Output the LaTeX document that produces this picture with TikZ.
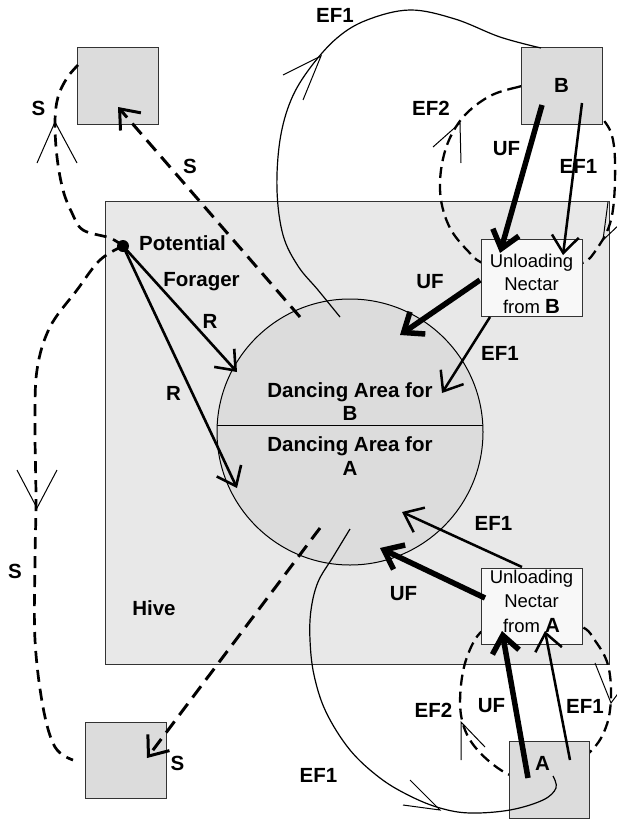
\documentclass[tikz,border=0pt]{standalone}
\usepackage{fontspec}
\setmainfont{Liberation Sans}
\usetikzlibrary{arrows.meta}
\definecolor{hivefill}{HTML}{E8E8E8}
\definecolor{patchfill}{HTML}{DCDCDC}
\definecolor{boxfill}{HTML}{F8F8F8}
\definecolor{edgegray}{HTML}{333333}
\begin{document}
\begin{tikzpicture}[x=1pt,y=-1pt,
  lbl/.style={font=\bfseries\fontsize{20.5}{24}\selectfont,inner sep=0pt,anchor=base},
  txt/.style={font=\fontsize{18.5}{22}\selectfont,inner sep=0pt,anchor=base},
  area/.style={draw=edgegray,line width=1pt,inner sep=0pt,anchor=north west},
  patch/.style={area,fill=patchfill},
  unload/.style={area,fill=boxfill},
  barb/.style={-{Straight Barb[length=17pt,width=27pt]}},
  scout/.style={barb,line width=3pt,dash pattern=on 14pt off 8pt},
  recruit/.style={barb,line width=2.6pt},
  unloadflight/.style={barb,line width=5.5pt},
  empflight/.style={barb,line width=2.5pt},
  flightpath/.style={line width=1.2pt},
  dashpath/.style={line width=2.7pt,dash pattern=on 12pt off 7pt},
  loopline/.style={line width=2.3pt,dash pattern=on 11pt off 6pt},
  thinbarb/.style={line width=1pt},
]
\useasboundingbox (0,0) rectangle (617,819);

% the hive
\node[area,fill=hivefill,minimum width=504pt,minimum height=463pt] (hive) at (105,201) {};

% EF2 loops around the two food sources
\draw[loopline] plot[smooth cycle,tension=0.6] coordinates {(545,82) (518,87) (490,96) (465,115) (449,140) (441,170) (441,200) (450,228) (467,250) (485,264) (530,274) (580,264) (598,247) (611,220) (615,180) (613,140) (602,118) (575,90)};
\draw[loopline] plot[smooth cycle,tension=0.6] coordinates {(535,618) (500,624) (480,633) (467,657) (461,685) (461,715) (470,740) (490,762) (515,777) (550,782) (590,752) (606,727) (611,697) (608,665) (596,642) (580,626)};
\draw[thinbarb] (433,147) -- (460,123) -- (461,163);
\draw[thinbarb] (608,202) -- (603,240) -- (622,222);
\draw[thinbarb] (485,747) -- (461,722) -- (461,760);
\draw[thinbarb] (595,663) -- (611,703) -- (628,680);

% dancing area
\node[circle,draw,fill=patchfill,line width=1pt,minimum size=266pt,inner sep=0pt] (dance) at (350,432) {};
\coordinate (chordL) at (217.3,425);
\coordinate (chordR) at (482.7,425);
\draw[line width=1pt] (chordL) -- (chordR);

% food sources and unloading places
\node[patch,minimum width=81pt,minimum height=77pt] (srcNW) at (77,47) {};
\node[patch,minimum width=81pt,minimum height=77pt] (srcB) at (521,47) {};
\node[patch,minimum width=81pt,minimum height=76pt] (srcSW) at (85,722) {};
\node[patch,minimum width=80pt,minimum height=77pt] (srcA) at (509,741) {};
\node[unload,minimum width=101pt,minimum height=77pt] (unB) at (481,239) {};
\node[unload,minimum width=101pt,minimum height=76pt] (unA) at (481,568) {};

% potential forager
\node[circle,fill=black,inner sep=0pt,minimum size=12pt] (forager) at (123,246) {};

% scouting loops
\coordinate (nwEnd) at (78,65);
\coordinate (swEnd) at (73,760);
\draw[dashpath] plot[smooth,tension=0.6] coordinates {(forager.center) (110,238) (83,230) (72,213) (63,190) (57,157) (55,122) (58,97) (67,78) (nwEnd)};
\draw[thinbarb] (37,163) -- (55,122) -- (77,163);
\draw[dashpath] plot[smooth,tension=0.6] coordinates {(forager.center) (100,260) (77,290) (50,327) (37,370) (35,427) (36,500) (35,560) (35,640) (43,707) (55,747) (swEnd)};
\draw[thinbarb] (17,470) -- (37,508) -- (57,470);

% employed foragers flying out
\coordinate (efTopS) at (340,317);
\coordinate (efTopE) at (541,48);
\draw[flightpath] plot[smooth,tension=0.6] coordinates {(efTopS) (318,290) (298,266) (283,235) (277,190) (280,140) (291,100) (310,68) (337,38) (367,20) (410,10) (455,19) (500,37) (efTopE)};
\draw[thinbarb] (283,75) -- (321,56) -- (303,100);
\coordinate (efBotS) at (350,529);
\coordinate (efBotE) at (553,776);
\draw[flightpath] plot[smooth,tension=0.6] coordinates {(efBotS) (333,557) (318,582) (311,610) (310,640) (314,675) (326,712) (350,750) (380,778) (410,796) (440,808) (470,813) (510,810) (543,800) (556,788) (efBotE)};
\draw[thinbarb] (410,780) -- (440,810) -- (403,805);

% scouts heading to new sources
\coordinate (scoutN) at (300,317);
\coordinate (scoutNtip) at (118,107);
\coordinate (scoutS) at (320,528);
\coordinate (scoutStip) at (147,758);
\draw[scout] (scoutN) -- (scoutNtip);
\draw[scout] (scoutS) -- (scoutStip);

% recruitment
\coordinate (danceB) at (237,372);
\coordinate (danceA) at (237,488);
\draw[recruit] (forager.center) -- (danceB);
\draw[recruit] (forager.center) -- (danceA);

% source B traffic
\coordinate (bUF) at (542,105);
\coordinate (bUFtip) at (500,253);
\coordinate (bEF) at (582,103);
\coordinate (bEFtip) at (563,255);
\coordinate (unBuf) at (480,280);
\coordinate (unBuftip) at (400,335);
\coordinate (unBef) at (490,317);
\coordinate (unBeftip) at (442,393);
\draw[unloadflight] (bUF) -- (bUFtip);
\draw[empflight] (bEF) -- (bEFtip);
\draw[unloadflight] (unBuf) -- (unBuftip);
\draw[empflight] (unBef) -- (unBeftip);

% source A traffic
\coordinate (aUF) at (528,778);
\coordinate (aUFtip) at (502,631);
\coordinate (aEF) at (570,760);
\coordinate (aEFtip) at (545,631);
\coordinate (unAuf) at (485,598);
\coordinate (unAuftip) at (380,548);
\coordinate (unAef) at (522,567);
\coordinate (unAeftip) at (402,512);
\draw[unloadflight] (aUF) -- (aUFtip);
\draw[empflight] (aEF) -- (aEFtip);
\draw[unloadflight] (unAuf) -- (unAuftip);
\draw[empflight] (unAef) -- (unAeftip);

% text in boxes and areas
\node[txt] (unB1) at (531.5,267) {Unloading};
\node[txt] (unB2) at (531.5,290) {Nectar};
\node[txt] (unB3) at (531.5,313) {from {\bfseries\fontsize{20.5}{24}\selectfont B}};
\node[txt] (unA1) at (531.5,583) {Unloading};
\node[txt] (unA2) at (531.5,607) {Nectar};
\node[txt] (unA3) at (531.5,632) {from {\bfseries\fontsize{20.5}{24}\selectfont A}};
\node[lbl] (dB1) at (350,397) {Dancing Area for};
\node[lbl] (dB2) at (350,420) {B};
\node[lbl] (dA1) at (350,451) {Dancing Area for};
\node[lbl] (dA2) at (350,475) {A};
\node[lbl] (nameB) at (561.5,92) {B};
\node[lbl] (nameA) at (542.5,770) {A};
\node[lbl] (pot) at (182.5,250) {Potential};
\node[lbl] (forg) at (201.5,286) {Forager};
\node[lbl] (hiveLbl) at (154,615) {Hive};

% connector labels
\node[lbl] (lR1) at (210,328) {R};
\node[lbl] (lR2) at (173.5,400) {R};
\node[lbl] (lS1) at (38.5,115) {S};
\node[lbl] (lS2) at (190,173) {S};
\node[lbl] (lS3) at (15,578) {S};
\node[lbl] (lS4) at (177.5,770) {S};
\node[lbl] (lEFtop) at (335,23) {EF1};
\node[lbl] (lEF2B) at (431,115) {EF2};
\node[lbl] (lUFB) at (506.5,155) {UF};
\node[lbl] (lEF1B) at (578.5,173) {EF1};
\node[lbl] (lUFunB) at (430,288) {UF};
\node[lbl] (lEFunB) at (500,360) {EF1};
\node[lbl] (lEFunA) at (493.5,530) {EF1};
\node[lbl] (lUFunA) at (403.5,600) {UF};
\node[lbl] (lEF2A) at (433.5,717) {EF2};
\node[lbl] (lUFA) at (491.5,712) {UF};
\node[lbl] (lEF1A) at (585,713) {EF1};
\node[lbl] (lEFbot) at (318.5,782) {EF1};
\end{tikzpicture}
\end{document}
